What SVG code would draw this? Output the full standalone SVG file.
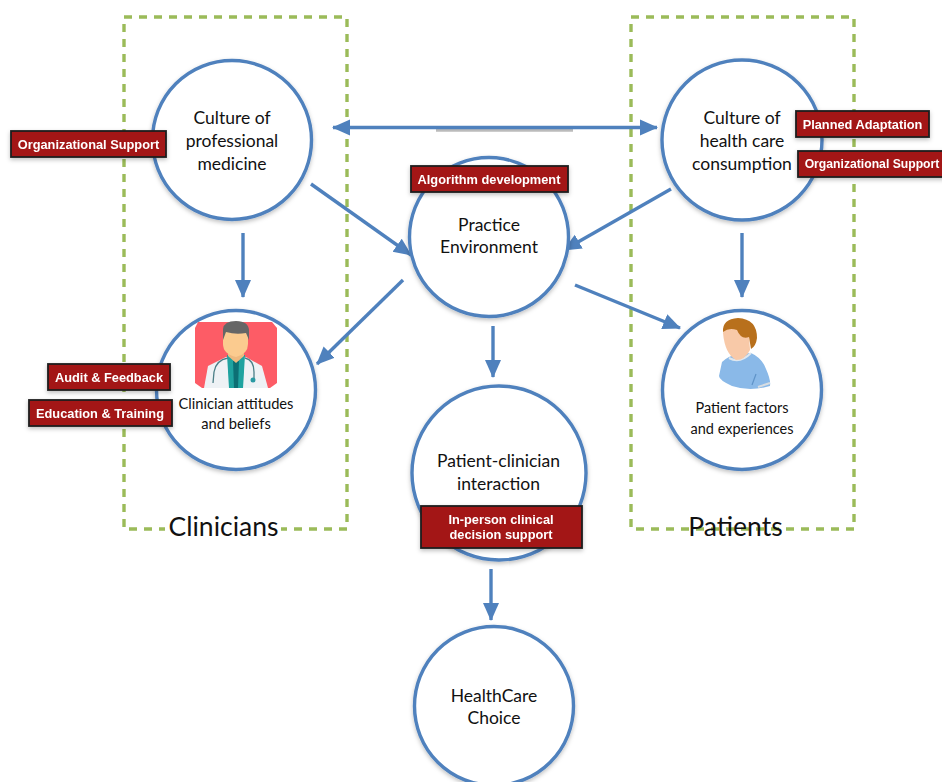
<svg xmlns="http://www.w3.org/2000/svg" width="942" height="782" viewBox="0 0 942 782">
<style>
.n{fill:#fff;stroke:#4f81bd;stroke-width:3.4}
.z{fill:none;stroke:#9bbb59;stroke-width:3.4;stroke-dasharray:8 7}
.c{fill:none;stroke:#4f81bd;stroke-width:3.4}
.t{font-family:Lato,"Open Sans",sans-serif;fill:#111;text-anchor:middle}
.b{fill:#a31515;stroke:#1c1c1c;stroke-width:1.8}
.l{font-family:"Liberation Sans",Arial,sans-serif;font-weight:700;font-size:12.800px;fill:#fff;text-anchor:middle}
</style>
<defs>
<marker id="a" markerUnits="userSpaceOnUse" markerWidth="20" markerHeight="20" refX="17" refY="10" orient="auto-start-reverse"><path d="M0 2L18 10L0 18z" fill="#4f81bd"/></marker>
<filter id="s" x="-10%" y="-10%" width="120%" height="125%"><feDropShadow dx="0" dy="2" stdDeviation="2" flood-color="#000" flood-opacity=".25"/></filter>
</defs>
<g id="zones">
<rect id="zone-clinicians" class="z" x="124" y="17" width="223" height="512"/>
<rect id="zone-patients" class="z" x="631" y="17" width="223" height="512"/>
</g>
<g id="connectors">
<path d="M436 130H573" stroke="#777" stroke-width="3.500" opacity=".5" fill="none"/>
<path class="c" marker-start="url(#a)" marker-end="url(#a)" d="M333 127.500H657"/>
<path class="c" marker-end="url(#a)" d="M311 184L411 255"/>
<path class="c" marker-end="url(#a)" d="M671 189L564 250"/>
<path class="c" marker-end="url(#a)" d="M243 233V297"/>
<path class="c" marker-end="url(#a)" d="M742 233V297"/>
<path class="c" marker-end="url(#a)" d="M403 280L317 364"/>
<path class="c" marker-end="url(#a)" d="M575 285L680 328"/>
<path class="c" marker-end="url(#a)" d="M493 326V377"/>
<path class="c" marker-end="url(#a)" d="M491 569V620"/>
</g>
<g id="node-culture-medicine">
<circle class="n" filter="url(#s)" cx="232" cy="140" r="79.500"/>
<text class="t" font-size="17.500" x="232" y="124">Culture of</text>
<text class="t" font-size="17.500" x="232" y="147">professional</text>
<text class="t" font-size="17.500" x="232" y="170">medicine</text>
</g>
<g id="node-culture-consumption">
<circle class="n" filter="url(#s)" cx="742" cy="140" r="80"/>
<text class="t" font-size="17.500" x="742" y="124">Culture of</text>
<text class="t" font-size="17.500" x="742" y="147">health care</text>
<text class="t" font-size="17.500" x="742" y="170">consumption</text>
</g>
<g id="node-practice">
<circle class="n" filter="url(#s)" cx="489" cy="237" r="79.500"/>
<text class="t" font-size="17.500" x="489" y="231">Practice</text>
<text class="t" font-size="17.500" x="489" y="253">Environment</text>
</g>
<g id="node-clinician">
<circle class="n" filter="url(#s)" cx="236" cy="390" r="79.500"/>
<g id="doctor-icon">
<path d="M198 322H272L277 328V383L270 388H202L195 383V328z" fill="#fd5c66"/>
<path d="M204 388L208 366L226 357H246L262 366L268 388z" fill="#eef2f5"/>
<path d="M227 355H245L243 388H229z" fill="#1fa3a0"/>
<path d="M233 361H239L238 388H234z" fill="#0d6f74"/>
<path d="M228 342H244V356L236 363L228 356z" fill="#efb97f"/>
<path d="M223 332H248V344Q248 354 236 357Q223 354 223 344z" fill="#fbcb8f"/>
<path d="M223 340V329Q224 321 236 321Q249 321 249 331V340L246 333Q236 335 226 332z" fill="#666"/>
<path d="M228 358Q216 360 214 372L213 383M245 358Q254 360 254 372V380" fill="none" stroke="#4b7f87" stroke-width="1.300"/>
<circle cx="253" cy="380" r="2.500" fill="#2a9aa3"/>
</g>
<text class="t" font-size="14.700" x="236" y="409">Clinician attitudes</text>
<text class="t" font-size="14.700" x="236" y="429">and beliefs</text>
</g>
<g id="node-patient">
<circle class="n" filter="url(#s)" cx="742" cy="390" r="79.500"/>
<g id="patient-icon">
<path d="M722 362Q728 356 738 354L751 353Q762 358 766 369Q771 380 770 386Q750 392 732 386Q719 380 719 376z" fill="#8ab9e8"/>
<path d="M729 358Q740 364 751 353" fill="none" stroke="#dfe7ee" stroke-width="2"/>
<path d="M756 374L752 385" fill="none" stroke="#5f93c8" stroke-width="1.200"/>
<path d="M758 387L770 383" fill="none" stroke="#d8dde2" stroke-width="2"/>
<path d="M723 333Q723 326 735 326L749 336L750 350Q745 360 736 360Q725 354 723 333z" fill="#f8c9a8"/>
<path d="M723 332Q722 319 738 318Q757 319 757 338Q756 346 751 349L749 337Q741 340 737 330Q729 327 723 332z" fill="#b8701c"/>
</g>
<text class="t" font-size="14.500" x="742" y="413">Patient factors</text>
<text class="t" font-size="14.500" x="742" y="434">and experiences</text>
</g>
<g id="node-interaction">
<circle class="n" filter="url(#s)" cx="499" cy="473" r="87"/>
<text class="t" font-size="17.500" x="498.500" y="467">Patient-clinician</text>
<text class="t" font-size="17.500" x="498.500" y="490">interaction</text>
</g>
<g id="node-choice">
<circle class="n" filter="url(#s)" cx="494" cy="706" r="79.500"/>
<text class="t" font-size="17.500" x="494" y="702">HealthCare</text>
<text class="t" font-size="17.500" x="494" y="724">Choice</text>
</g>
<g id="labels" filter="url(#s)">
<g id="tag-org-left"><rect class="b" x="11" y="131" width="155" height="26"/><text class="l" x="88.500" y="149">Organizational Support</text></g>
<g id="tag-planned"><rect class="b" x="796" y="111" width="133" height="26"/><text class="l" x="862.500" y="128.500">Planned Adaptation</text></g>
<g id="tag-org-right"><rect class="b" x="798" y="151" width="155" height="26"/><text class="l" x="872" y="168" style="font-size:12.200px">Organizational Support</text></g>
<g id="tag-algorithm"><rect class="b" x="411" y="166" width="157" height="26"/><text class="l" x="489" y="184">Algorithm development</text></g>
<g id="tag-audit"><rect class="b" x="48" y="364" width="122" height="26"/><text class="l" x="109" y="382">Audit &amp; Feedback</text></g>
<g id="tag-education"><rect class="b" x="29" y="400" width="143" height="26"/><text class="l" x="100" y="418">Education &amp; Training</text></g>
<g id="tag-inperson"><rect class="b" x="421" y="506" width="161" height="42"/><text class="l" x="501" y="524">In-person clinical</text><text class="l" x="501" y="539">decision support</text></g>
</g>
<g id="zone-titles">
<rect x="165" y="514" width="116" height="28" fill="#fff"/>
<text class="t" font-size="26.500" x="223.500" y="536">Clinicians</text>
<text class="t" font-size="26.500" x="735.500" y="536">Patients</text>
</g>
</svg>
